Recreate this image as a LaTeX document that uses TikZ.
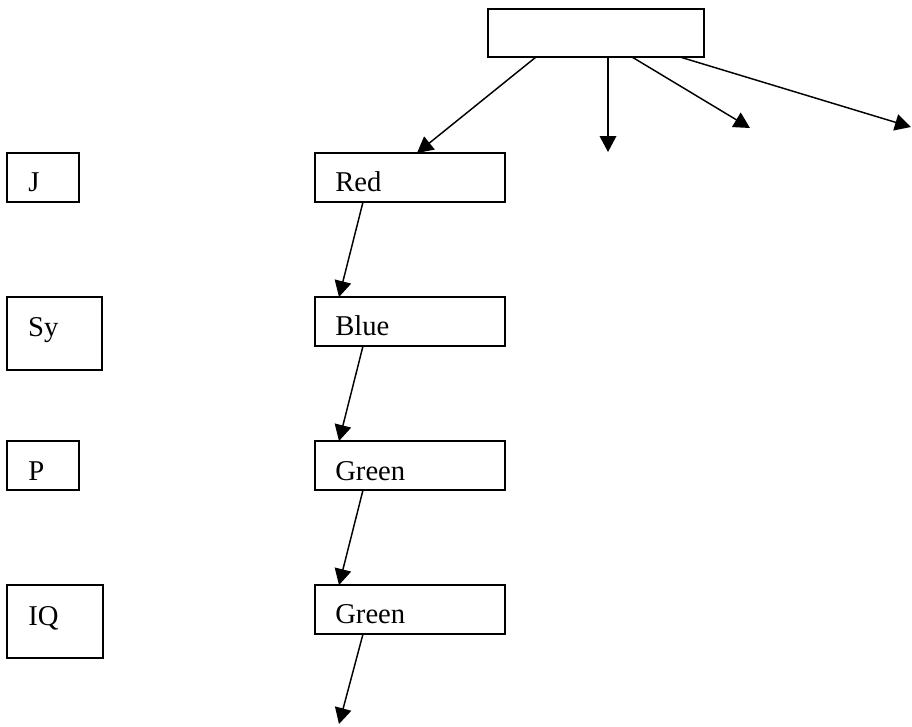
\documentclass[tikz,border=0pt]{standalone}
\usepackage{fontspec}
\setmainfont{Liberation Serif}
\usetikzlibrary{arrows.meta,calc}
\begin{document}
\begin{tikzpicture}[x=0.75pt,y=-0.75pt,
  box/.style={draw,line width=1.1pt,inner sep=0pt,outer sep=0pt,minimum width=142.5pt,minimum height=36.75pt},
  smallbox/.style={box,minimum width=54pt},
  tallbox/.style={box,minimum width=71.5pt,minimum height=54.75pt},
  lbl/.style={anchor=base west,inner sep=0pt,font=\fontsize{21.5}{26}\selectfont},
  arr/.style={line width=1.1pt,-{Triangle[length=12pt,width=12.5pt]}}]
\useasboundingbox (0,0) rectangle (912,726);
% boxes
\node[box,minimum width=162pt,minimum height=36pt] (top) at (596,33) {};
\node[smallbox] (j) at (43,177.5) {};
\node[box] (red) at (410,177.5) {};
\node[tallbox] (sy) at (54.5,333.5) {};
\node[box] (blue) at (410,321.5) {};
\node[smallbox] (p) at (43,465.5) {};
\node[box] (green1) at (410,465.5) {};
\node[tallbox,minimum width=72pt] (iq) at (55,621.5) {};
\node[box] (green2) at (410,609.5) {};
% labels
\node[lbl] (tj) at ($(j.north west)+(21,38.5)$) {J};
\node[lbl] (tred) at ($(red.north west)+(20,38.5)$) {Red};
\node[lbl] (tsy) at ($(sy.north west)+(21,39)$) {Sy};
\node[lbl] (tblue) at ($(blue.north west)+(20,38.5)$) {Blue};
\node[lbl] (tp) at ($(p.north west)+(21,39)$) {P};
\node[lbl] (tgreen1) at ($(green1.north west)+(20,39)$) {Green};
\node[lbl] (tiq) at ($(iq.north west)+(21,40)$) {IQ};
\node[lbl] (tgreen2) at ($(green2.north west)+(20,38.5)$) {Green};
% free ends
\coordinate (e2) at (608,152);
\coordinate (e3) at (750,128);
\coordinate (e4) at (911,127);
\coordinate (e5) at (339,724);
% arrows
\draw[arr] ($(top.south west)+(48,0)$) -- ($(red.north west)+(102,0)$);
\draw[arr] ($(top.south west)+(120,0)$) -- (e2);
\draw[arr] ($(top.south west)+(144,0)$) -- (e3);
\draw[arr] ($(top.south west)+(192,0)$) -- (e4);
\draw[arr] ($(red.south west)+(48,0)$) -- ($(blue.north west)+(24,0)$);
\draw[arr] ($(blue.south west)+(48,0)$) -- ($(green1.north west)+(24,0)$);
\draw[arr] ($(green1.south west)+(48,0)$) -- ($(green2.north west)+(24,0)$);
\draw[arr] ($(green2.south west)+(48,0)$) -- (e5);
\end{tikzpicture}
\end{document}
